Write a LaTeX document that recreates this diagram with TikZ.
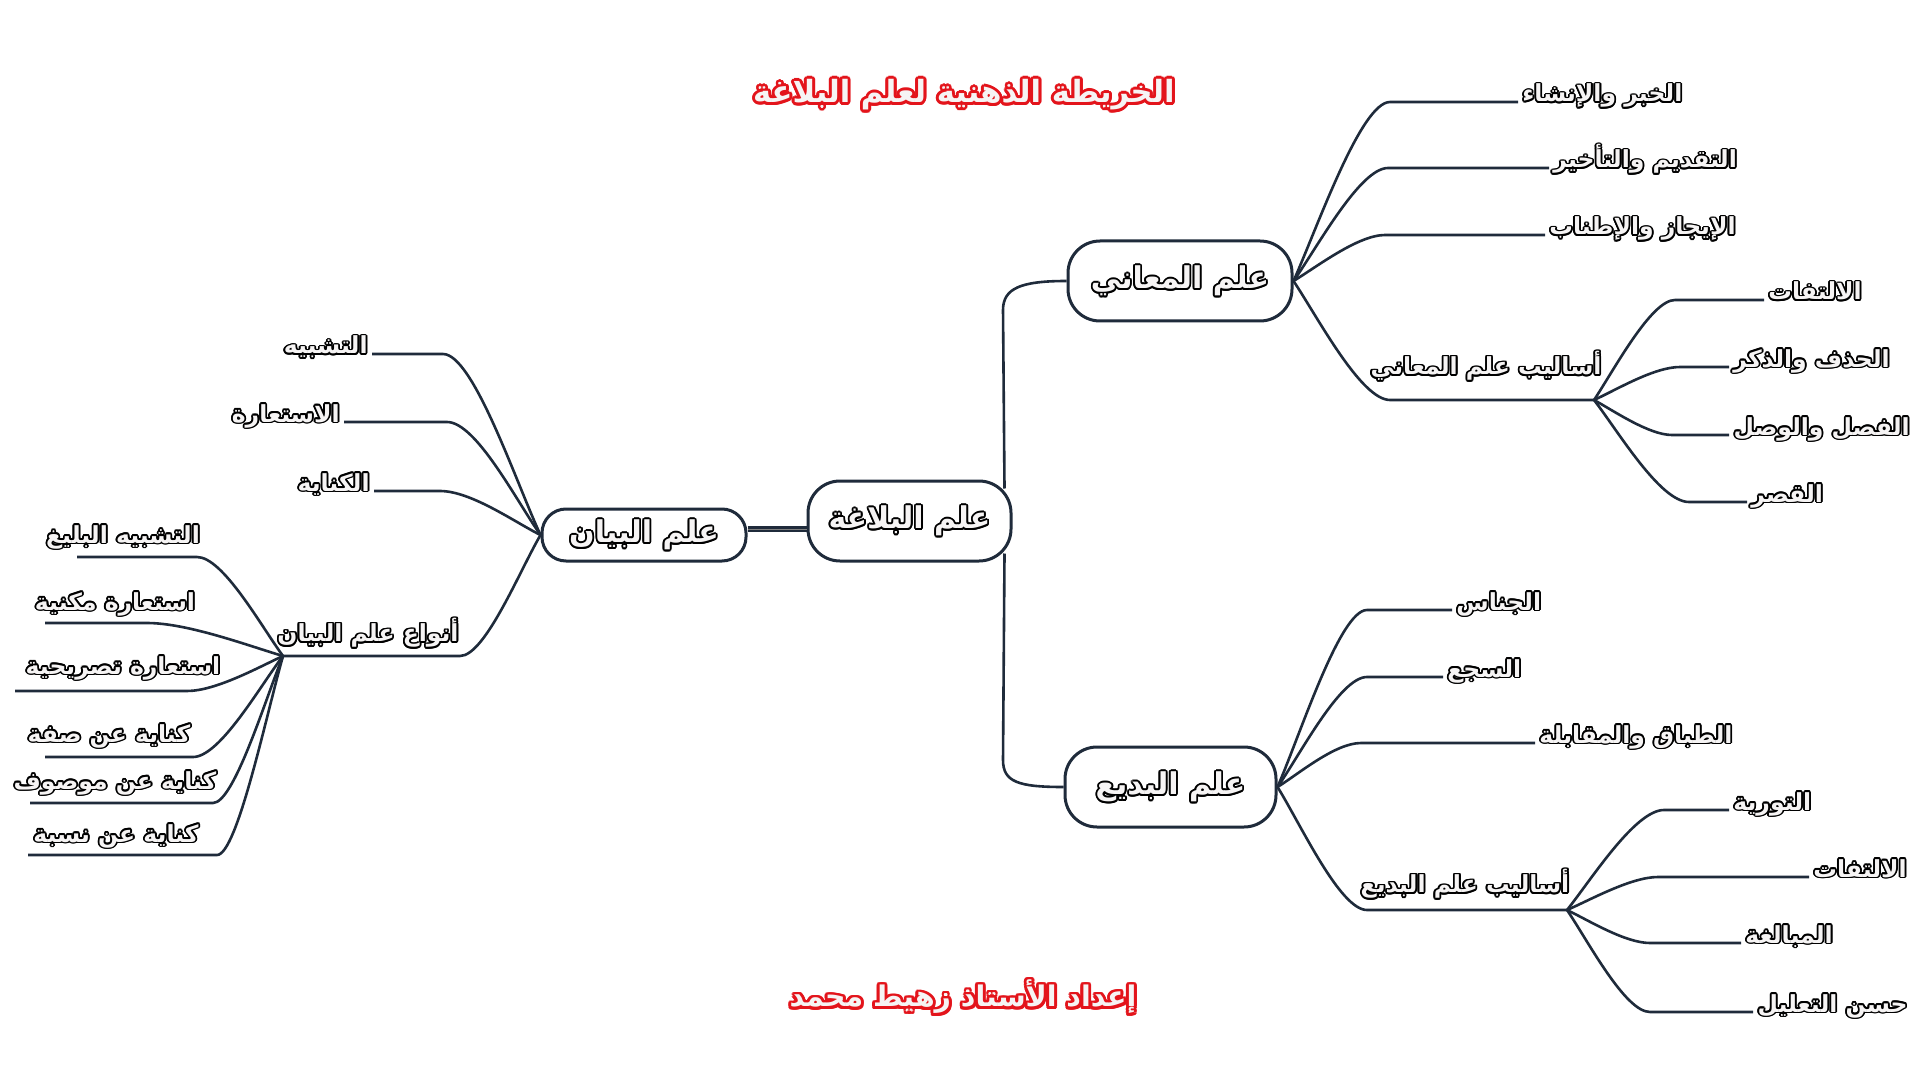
\documentclass[tikz,border=0pt]{standalone}
\usepackage{fontspec}
\newfontfamily\arfont[Script=Arabic]{DejaVu Sans}
\TeXXeTstate=1
\definecolor{conn}{HTML}{1F2B3B}
\definecolor{lfill}{HTML}{F6F4F4}
\definecolor{tred}{HTML}{E3141B}
% outlined Arabic text: copies in the outline colour, then the text in the fill colour
\newcommand\olnode[4]{%
  \foreach \a in {0,30,...,330}{\node[#1, text=black, shift={(\a:0.9pt)}] at #3 {#4};}
  \node[#1, text=lfill] (#2) at #3 {#4};}
\newcommand\olred[4]{%
  \foreach \a in {0,22.5,...,337.5}{\node[#1, text=tred, shift={(\a:1.45pt)}] at #3 {#4};}
  \node[#1, text=lfill] (#2) at #3 {#4};}
\begin{document}
\begin{tikzpicture}[x=0.5pt,y=-0.5pt,
  pill/.style={draw=conn, line width=1.5pt, fill=white, rounded corners=16pt, inner sep=0pt},
  ptext/.style={inner sep=0pt, font=\arfont\bfseries\fontsize{15}{18}\selectfont},
  lab/.style={inner xsep=2pt, inner ysep=0pt, font=\arfont\bfseries\fontsize{11.75}{14}\selectfont},
  ttl/.style={inner sep=0pt, font=\arfont\bfseries\fontsize{15.3}{18}\selectfont},
  ftr/.style={inner sep=0pt, font=\arfont\bfseries\fontsize{14.2}{17}\selectfont},
  wire/.style={draw=conn, line width=1.3pt}]
\useasboundingbox (0,0) rectangle (1920,1080);

% titles
\olred{ttl}{title}{(964,95)}{\beginR الخريطة الذهنية لعلم البلاغة\endR}
\olred{ftr}{footer}{(963,997)}{\beginR إعداد الأستاذ زهيط محمد\endR}

% main nodes
\node[pill, minimum width=101.5pt, minimum height=40pt] (main) at (909.5,521) {};
\node[pill, minimum width=102pt, minimum height=26pt, rounded corners=12pt] (bayan) at (644,535) {};
\node[pill, minimum width=112pt, minimum height=40pt] (maani) at (1180,281) {};
\node[pill, minimum width=105.5pt, minimum height=40pt] (badi) at (1170.5,787) {};
\olnode{ptext}{mainT}{(909.5,521)}{\beginR علم البلاغة\endR}
\olnode{ptext}{bayanT}{(644,535)}{\beginR علم البيان\endR}
\olnode{ptext}{maaniT}{(1180,281)}{\beginR علم المعاني\endR}
\olnode{ptext}{badiT}{(1170.5,787)}{\beginR علم البديع\endR}

% main connectors
\draw[draw=conn, line width=1.1pt, double=gray, double distance=0.45pt]
  ([yshift=3pt]bayan.east) -- ([yshift=3pt]bayan.east -| main.west);
\coordinate (mU) at (1003,310);
\coordinate (mD) at (1003,760);
\draw[wire] ([xshift=-4pt,yshift=-4.5pt]main.north east) -- (mU) .. controls +(0,-22) and +(-45,0) .. (maani.west);
\draw[wire] ([xshift=-4pt,yshift=4.5pt]main.south east) -- (mD) .. controls +(0,22) and +(-45,0) .. (badi.west);

% ---------- right top: علم المعاني
\olnode{lab, anchor=base west}{khabar}{(1518,102)}{\beginR الخبر والإنشاء\endR}
\olnode{lab, anchor=base west}{taqdim}{(1549,168)}{\beginR التقديم والتأخير\endR}
\olnode{lab, anchor=base west}{ijaz}{(1545,235)}{\beginR الإيجاز والإطناب\endR}
\olnode{lab}{asalibm}{(1486,366)}{\beginR أساليب علم المعاني\endR}
\coordinate (eKh) at (1390,102);
\coordinate (eTq) at (1388,168);
\coordinate (eIj) at (1385,235);
\coordinate (amL) at (1390,400);
\coordinate (amR) at (1594,400);
\draw[wire] (maani.east) .. controls +(24,-54) and +(-29,0) .. (eKh) -- (khabar.base west);
\draw[wire] (maani.east) .. controls +(24,-34) and +(-28,0) .. (eTq) -- (taqdim.base west);
\draw[wire] (maani.east) .. controls +(23,-14) and +(-27,0) .. (eIj) -- (ijaz.base west);
\draw[wire] (maani.east) .. controls +(24,36) and +(-29,0) .. (amL) -- (amR);

\olnode{lab, anchor=base west}{iltf1}{(1764,300)}{\beginR الالتفات\endR}
\olnode{lab, anchor=base west}{hadhf}{(1729,367)}{\beginR الحذف والذكر\endR}
\olnode{lab, anchor=base east}{fasl}{(1914,435)}{\beginR الفصل والوصل\endR}
\olnode{lab, anchor=base west}{qasr}{(1747,502)}{\beginR القصر\endR}
\coordinate (eIl1) at (1675,300);
\coordinate (eHd) at (1680,367);
\coordinate (eFs) at (1672,435);
\coordinate (eQs) at (1689,502);
\draw[wire] (amR) .. controls +(20,-30) and +(-24,0) .. (eIl1) -- (iltf1.base west);
\draw[wire] (amR) .. controls +(22,-10) and +(-26,0) .. (eHd) -- (hadhf.base west);
\draw[wire] (amR) .. controls +(20,11) and +(-23,0) .. (eFs) -- (fasl.base west);
\draw[wire] (amR) .. controls +(24,31) and +(-29,0) .. (eQs) -- (qasr.base west);

% ---------- right bottom: علم البديع
\olnode{lab, anchor=base west}{jinas}{(1452,610)}{\beginR الجناس\endR}
\olnode{lab, anchor=base west}{saja}{(1443,677)}{\beginR السجع\endR}
\olnode{lab, anchor=base west}{tibaq}{(1535,743)}{\beginR الطباق والمقابلة\endR}
\olnode{lab}{asalibb}{(1465,884)}{\beginR أساليب علم البديع\endR}
\coordinate (eJn) at (1367,610);
\coordinate (eSj) at (1367,677);
\coordinate (eTb) at (1361,743);
\coordinate (abL) at (1367,910);
\coordinate (abR) at (1567,910);
\draw[wire] (badi.east) .. controls +(23,-53) and +(-27,0) .. (eJn) -- (jinas.base west);
\draw[wire] (badi.east) .. controls +(23,-33) and +(-27,0) .. (eSj) -- (saja.base west);
\draw[wire] (badi.east) .. controls +(21,-13) and +(-26,0) .. (eTb) -- (tibaq.base west);
\draw[wire] (badi.east) .. controls +(23,37) and +(-27,0) .. (abL) -- (abR);

\olnode{lab, anchor=base west}{tawr}{(1729,810)}{\beginR التورية\endR}
\olnode{lab, anchor=base west}{iltf2}{(1809,877)}{\beginR الالتفات\endR}
\olnode{lab, anchor=base west}{mubal}{(1741,943)}{\beginR المبالغة\endR}
\olnode{lab, anchor=base east}{husn}{(1912,1012)}{\beginR حسن التعليل\endR}
\coordinate (eTw) at (1664,810);
\coordinate (eIl2) at (1658,877);
\coordinate (eMb) at (1650,943);
\coordinate (eHs) at (1650,1012);
\draw[wire] (abR) .. controls +(24,-30) and +(-29,0) .. (eTw) -- (tawr.base west);
\draw[wire] (abR) .. controls +(23,-10) and +(-27,0) .. (eIl2) -- (iltf2.base west);
\draw[wire] (abR) .. controls +(21,10) and +(-25,0) .. (eMb) -- (mubal.base west);
\draw[wire] (abR) .. controls +(21,31) and +(-25,0) .. (eHs) -- (husn.base west);

% ---------- left: علم البيان
\olnode{lab, anchor=base east}{tashb}{(372,354)}{\beginR التشبيه\endR}
\olnode{lab, anchor=base east}{istia}{(344,422)}{\beginR الاستعارة\endR}
\olnode{lab, anchor=base east}{kinay}{(374,491)}{\beginR الكناية\endR}
\olnode{lab}{anwa}{(368,633)}{\beginR أنواع علم البيان\endR}
\coordinate (eTs) at (443,354);
\coordinate (eIs) at (447,422);
\coordinate (eKn) at (440,491);
\coordinate (anR) at (460,656);
\coordinate (anL) at (283,656);
\draw[wire] (bayan.west) .. controls +(-25,-54) and +(30,0) .. (eTs) -- (tashb.base east);
\draw[wire] (bayan.west) .. controls +(-24,-34) and +(29,0) .. (eIs) -- (istia.base east);
\draw[wire] (bayan.west) .. controls +(-26,-13) and +(31,0) .. (eKn) -- (kinay.base east);
\draw[wire] (bayan.west) .. controls +(-21,36) and +(25,0) .. (anR) -- (anL);

\olnode{lab}{balig}{(123,537)}{\beginR التشبيه البليغ\endR}
\olnode{lab}{makn}{(115,604)}{\beginR استعارة مكنية\endR}
\olnode{lab}{tasr}{(123,668)}{\beginR استعارة تصريحية\endR}
\olnode{lab}{sifa}{(109,736)}{\beginR كناية عن صفة\endR}
\olnode{lab}{mawsf}{(115,783)}{\beginR كناية عن موصوف\endR}
\olnode{lab}{nisba}{(116,836)}{\beginR كناية عن نسبة\endR}
\coordinate (eBl) at (197,557);  \coordinate (uBl) at (77,557);
\coordinate (eMk) at (147,623);  \coordinate (uMk) at (45,623);
\coordinate (eTr) at (187,691);  \coordinate (uTr) at (15,691);
\coordinate (eSf) at (193,757);  \coordinate (uSf) at (45,757);
\coordinate (eMw) at (213,803);  \coordinate (uMw) at (30,803);
\coordinate (eNs) at (217,855);  \coordinate (uNs) at (28,855);
\draw[wire] (anL) .. controls +(-22,-30) and +(26,0) .. (eBl) -- (uBl);
\draw[wire] (anL) .. controls +(-34,-10) and +(41,0) .. (eMk) -- (uMk);
\draw[wire] (anL) .. controls +(-24,11) and +(29,0) .. (eTr) -- (uTr);
\draw[wire] (anL) .. controls +(-23,30) and +(27,0) .. (eSf) -- (uSf);
\draw[wire] (anL) .. controls +(-18,44) and +(21,0) .. (eMw) -- (uMw);
\draw[wire] (anL) .. controls +(-17,60) and +(20,0) .. (eNs) -- (uNs);
\end{tikzpicture}
\end{document}
